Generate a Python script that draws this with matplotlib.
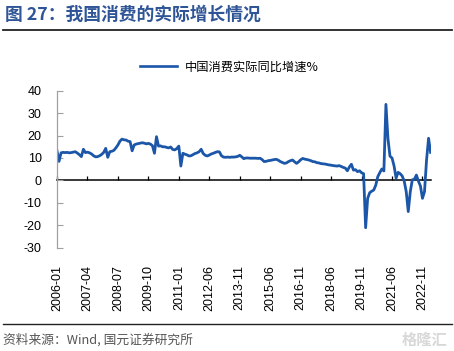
import matplotlib
matplotlib.use("Agg")
import matplotlib.pyplot as plt
from matplotlib.lines import Line2D

# ---------------- data ----------------
# monthly categories: full months 2006-2011, Jan/Feb missing from 2012 on
months = []
for y in range(2006, 2024):
    for m in range(1, 13):
        if y >= 2012 and m in (1, 2):
            continue
        if y == 2023 and m > 5:
            continue
        months.append(f"{y}-{m:02d}")

growth = [
    13.2, 8.5, 12.3, 12.5, 12.4, 12.5, 12.3, 12.4, 12.6, 12.8, 12.2, 11.5,   # 2006
    10.6, 13.9, 12.4, 12.6, 12.3, 11.8, 11.0, 10.5, 10.6, 11.0, 11.6, 12.5,   # 2007
    14.3, 10.3, 12.8, 13.0, 13.4, 14.5, 15.8, 17.5, 18.4, 18.1, 18.0, 17.5,   # 2008
    17.3, 13.2, 15.8, 16.2, 16.4, 16.6, 16.8, 16.6, 16.3, 16.5, 16.2, 15.5,   # 2009
    12.1, 19.5, 15.3, 15.4, 15.0, 15.0, 14.7, 14.5, 14.9, 13.8, 13.6, 14.2,   # 2010
    15.3, 6.4, 12.1, 11.7, 11.4, 10.9, 11.0, 11.5, 12.0, 12.3, 12.8, 13.9,    # 2011
    12.0, 11.2, 10.9, 11.3, 11.8, 12.1, 12.5, 12.8, 12.7, 11.0,               # 2012
    10.4, 10.3, 10.4, 10.3, 10.4, 10.4, 10.5, 10.7, 11.2, 10.5,               # 2013
    9.7, 10.0, 10.0, 9.9, 9.9, 9.9, 9.9, 9.8, 9.9, 9.3,                       # 2014
    8.4, 8.5, 8.8, 8.9, 9.1, 9.3, 9.4, 9.0, 8.4, 8.0,                         # 2015
    7.6, 7.8, 8.4, 8.8, 9.1, 8.3, 7.6, 8.3, 9.2, 9.8,                         # 2016
    9.5, 9.3, 9.1, 8.8, 8.4, 8.3, 7.9, 7.8, 7.5, 7.4,                         # 2017
    7.3, 7.1, 6.9, 6.8, 6.6, 6.5, 6.4, 6.6, 6.2, 5.8,                         # 2018
    5.5, 4.3, 6.0, 7.2, 4.6, 4.8, 3.9, 4.3, 3.4, 3.0,                         # 2019
    -21.1, -8.0, -5.5, -4.8, -4.3, -2.1, 1.7, 3.5, 5.1, 4.2,                  # 2020
    33.9, 18.6, 10.8, 10.0, 6.5, 1.0, 3.6, 3.0, 2.0, -0.3,                    # 2021
    -5.0, -13.9, -5.0, 0.3, 0.5, 2.4, -0.3, -2.5, -8.0, -5.0,                 # 2022
    9.0, 18.8, 12.5,                                                          # 2023
]

tick_labels = ["2006-01", "2007-04", "2008-07", "2009-10", "2011-01", "2012-06",
               "2013-11", "2015-06", "2016-11", "2018-06", "2019-11", "2021-06",
               "2022-11"]
y_ticks = [40, 30, 20, 10, 0, -10, -20, -30]

title_text = "图 27：我国消费的实际增长情况"
legend_text = "中国消费实际同比增速%"
source_text = "资料来源：Wind, 国元证券研究所"

# ---------------- style ----------------
CJK = ["Noto Sans CJK SC", "DejaVu Sans"]
LAT = ["Liberation Sans", "DejaVu Sans"]
line_color = "#1B56A8"
title_color = "#2F5597"

fig = plt.figure(figsize=(4.54, 3.51), dpi=100)
ax = fig.add_axes([57 / 454, 1 - 247.7 / 351, (431 - 57) / 454, (247.7 - 90.7) / 351])

x = list(range(len(growth)))
ax.plot(x, growth, color=line_color, lw=2.0, solid_joinstyle="round")

ax.set_xlim(0, len(growth) - 0.8)
ax.set_ylim(-30, 40)

# y axis
ax.set_yticks(y_ticks)
ax.set_yticklabels([str(v) for v in y_ticks], family=LAT, fontsize=9)
ax.tick_params(axis="y", direction="in", length=4, width=0.8, color="#A0A0A0", pad=11)
ax.spines["left"].set_color("#A0A0A0")
ax.spines["left"].set_linewidth(0.9)
for s in ("top", "right", "bottom"):
    ax.spines[s].set_visible(False)

# x labels at bottom
tick_pos = [months.index(t) for t in tick_labels]
ax.set_xticks(tick_pos)
ax.set_xticklabels(tick_labels, rotation=90, family=LAT, fontsize=9, va="top")
ax.tick_params(axis="x", length=0, pad=12.5)

# zero axis with tick marks
sec = ax.secondary_xaxis(30 / 70)
sec.set_xticks(tick_pos)
sec.set_xticklabels([])
sec.tick_params(axis="x", direction="in", length=3, width=0.9, color="black")
sec.spines["bottom"].set_color("black")
sec.spines["bottom"].set_linewidth(1.1)

# legend
handle = Line2D([], [], color=line_color, lw=1.9)
fig.legend([handle], [legend_text], loc="center", bbox_to_anchor=(0.505, 1 - 67 / 351),
           frameon=False, prop={"family": CJK, "size": 8.8},
           handlelength=3.0, handletextpad=0.6)

# title and rules
fig.text(5 / 454, 1 - 14.5 / 351, title_text, family=CJK, fontsize=12.8,
         fontweight="bold", color=title_color, va="center", ha="left")
fig.add_artist(Line2D([3 / 454, 452 / 454], [1 - 29.5 / 351, 1 - 29.5 / 351],
                      color="#222222", lw=1.3, transform=fig.transFigure))
fig.add_artist(Line2D([3 / 454, 452 / 454], [1 - 324 / 351, 1 - 324 / 351],
                      color="#222222", lw=1.0, transform=fig.transFigure))

fig.text(3 / 454, 1 - 340 / 351, source_text, family=CJK, fontsize=9.2,
         color="#555555", va="center", ha="left")
fig.text(447 / 454, 1 - 340 / 351, "格隆汇", family=CJK, fontsize=11,
         color="#D8D8D8", va="center", ha="right", fontweight="bold")

fig.savefig("out.png", dpi=100)
